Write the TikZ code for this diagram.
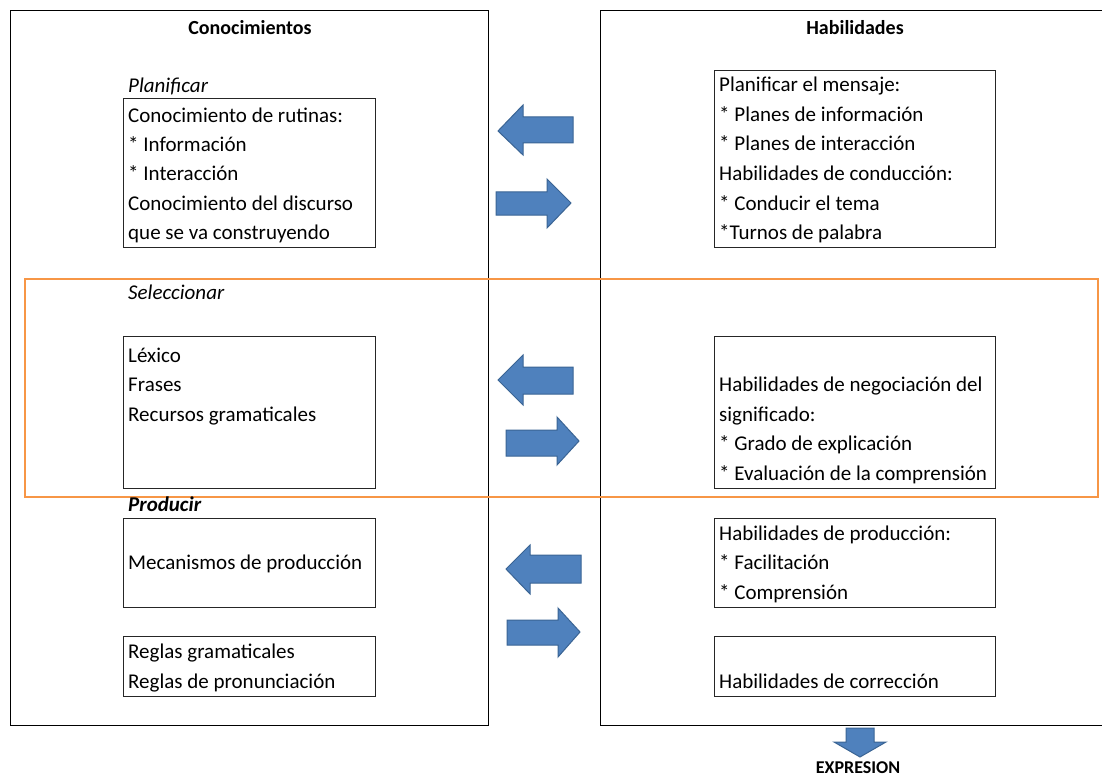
\documentclass[tikz,border=0pt]{standalone}
\usepackage{fontspec}
\setmainfont{Carlito}
\begin{document}
\begin{tikzpicture}[x=1pt,y=-1pt,
  bigbox/.style={draw=black,line width=1.3pt},
  box/.style={draw=black!85,line width=1.1pt,anchor=north west,inner sep=0pt},
  txt/.style={anchor=mid west,inner sep=0pt,font=\fontsize{21}{24}\selectfont},
  head/.style={anchor=center,inner sep=0pt,font=\fontsize{20}{22}\selectfont\bfseries},
  blockarrow/.style={fill=arrowblue,draw=arrowedge,line width=1pt,line join=miter},
]
\definecolor{arrowblue}{HTML}{4F81BD}
\definecolor{arrowedge}{HTML}{3A6494}
\definecolor{orangeline}{HTML}{F79646}
\useasboundingbox (0,0) rectangle (1102,778);
\fill[white] (0,0) rectangle (1102,778);

% big panels
\node[bigbox,anchor=north west,inner sep=0pt,minimum width=478pt,minimum height=715pt] (left) at (10,10) {};
\node[bigbox,anchor=north west,inner sep=0pt,minimum width=510pt,minimum height=715pt] (right) at (600,10) {};
\node[head] (hcon) at (250,28) {Conocimientos};
\node[head] (hhab) at (855,28) {Habilidades};

% orange band
\node[draw=orangeline,line width=1.8pt,anchor=north west,inner sep=0pt,minimum width=1073pt,minimum height=218pt] (band) at (24,278) {};

% left section labels
\node[txt,font=\fontsize{21}{24}\selectfont\itshape] (plan) at (128,90) {Planificar};
\node[txt,font=\fontsize{21}{24}\selectfont\itshape] (sel) at (128,297) {Seleccionar};
\node[txt,font=\fontsize{21}{24}\selectfont\bfseries\itshape] (prod) at (128,509) {Producir};

% left boxes
\node[box,minimum width=252pt,minimum height=149pt] (lb1) at (123,98) {};
\node[txt] (l1a) at (128,120) {Conocimiento de rutinas:};
\node[txt] (l1b) at (128,149) {* Información};
\node[txt] (l1c) at (128,178) {* Interacción};
\node[txt] (l1d) at (128,208) {Conocimiento del discurso};
\node[txt] (l1e) at (128,237) {que se va construyendo};

\node[box,minimum width=252pt,minimum height=152pt] (lb2) at (123,336) {};
\node[txt] (l2a) at (128,360) {Léxico};
\node[txt] (l2b) at (128,389) {Frases};
\node[txt] (l2c) at (128,419) {Recursos gramaticales};

\node[box,minimum width=252pt,minimum height=89pt] (lb3) at (123,518) {};
\node[txt] (l3a) at (128,567) {Mecanismos de producción};

\node[box,minimum width=252pt,minimum height=60pt] (lb4) at (123,636) {};
\node[txt] (l4a) at (128,656) {Reglas gramaticales};
\node[txt] (l4b) at (128,686) {Reglas de pronunciación};

% right boxes
\node[box,minimum width=281pt,minimum height=177pt] (rb1) at (714,70) {};
\node[txt] (r1a) at (719,89) {Planificar el mensaje:};
\node[txt] (r1b) at (719,119) {* Planes de información};
\node[txt] (r1c) at (719,148) {* Planes de interacción};
\node[txt] (r1d) at (719,178) {Habilidades de conducción:};
\node[txt] (r1e) at (719,208) {* Conducir el tema};
\node[txt] (r1f) at (719,237) {*Turnos de palabra};

\node[box,minimum width=281pt,minimum height=152pt] (rb2) at (714,336) {};
\node[txt] (r2a) at (719,389) {Habilidades de negociación del};
\node[txt] (r2b) at (719,419) {significado:};
\node[txt] (r2c) at (719,448) {* Grado de explicación};
\node[txt] (r2d) at (719,478) {* Evaluación de la comprensión};

\node[box,minimum width=281pt,minimum height=89pt] (rb3) at (714,518) {};
\node[txt] (r3a) at (719,538) {Habilidades de producción:};
\node[txt] (r3b) at (719,567) {* Facilitación};
\node[txt] (r3c) at (719,597) {* Comprensión};

\node[box,minimum width=281pt,minimum height=60pt] (rb4) at (714,636) {};
\node[txt] (r4a) at (719,686) {Habilidades de corrección};

% block arrows (left-pointing)
\draw[blockarrow] (498,131) -- (523,105) -- (523,117) -- (573,117) -- (573,143) -- (523,143) -- (523,155) -- cycle;
\draw[blockarrow] (498,380) -- (523,355) -- (523,367) -- (573,367) -- (573,394) -- (523,394) -- (523,405) -- cycle;
\draw[blockarrow] (506,569) -- (530,545) -- (530,555) -- (581,555) -- (581,583) -- (530,583) -- (530,594) -- cycle;
% block arrows (right-pointing)
\draw[blockarrow] (571,203) -- (547,179) -- (547,192) -- (496,192) -- (496,215) -- (547,215) -- (547,228) -- cycle;
\draw[blockarrow] (579,441) -- (557,417) -- (557,430) -- (506,430) -- (506,456) -- (557,456) -- (557,465) -- cycle;
\draw[blockarrow] (580,632) -- (558,608) -- (558,620) -- (507,620) -- (507,645) -- (558,645) -- (558,657) -- cycle;
% down arrow
\draw[blockarrow] (860,757) -- (834,742) -- (846,742) -- (846,728) -- (874,728) -- (874,742) -- (886,742) -- cycle;
\node[inner sep=0pt,font=\fontsize{18}{20}\selectfont\bfseries] (expr) at (858,768) {EXPRESION};
\end{tikzpicture}
\end{document}
